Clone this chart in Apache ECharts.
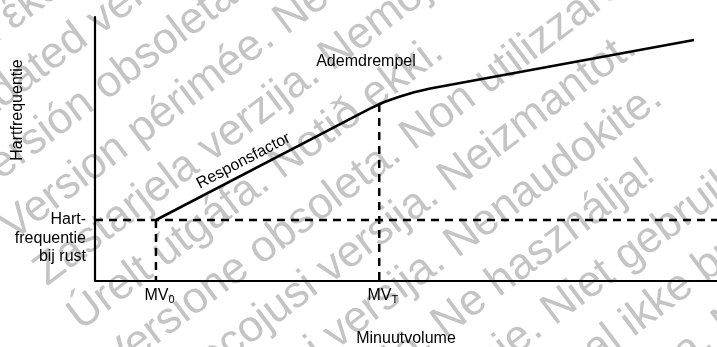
<!DOCTYPE html>
<html>
<head>
<meta charset="utf-8">
<script src="https://cdn.jsdelivr.net/npm/echarts@6/dist/echarts.min.js"></script>
<style>
  html, body { margin: 0; padding: 0; background: #fff; }
  #chart { width: 717px; height: 347px; }
</style>
</head>
<body>
<div id="chart"></div>
<script>
// Rate-response curve: heart rate against minute ventilation (arbitrary units, 0-100 on both axes)
const restRate = 23.1;   // heart rate at rest
const mv0 = 9.8;         // minute ventilation at rest
const mvT = 45.7;        // ventilatory threshold
const rateAtMvT = 67.0;  // heart rate reached at the threshold

// response curve: straight "Responsfactor" segment, bend, flatter segment above the threshold
const curveX = [9.8, 44.2, 46.4, 48.8, 51.3, 53.9, 96.3];
const curveY = [23.1, 65.3, 67.7, 69.7, 71.5, 72.9, 91.3];

const xTickValues = [mv0, mvT];
const xTickSubscripts = ['0', 'T'];

const yAxisTitle = 'Hartfrequentie';
const xAxisTitle = 'Minuutvolume';
const restLabel = 'Hart-\nfrequentie\nbij rust';
const slopeLabel = 'Responsfactor';
const thresholdLabel = 'Ademdrempel';

// background watermark lines
const watermarkLines = [
  'Παλιά έκδοση. Μην τη χρησιμοποιείτε.',
  'Outdated version. Do not use.',
  'Versión obsoleta. No utilizar.',
  'Version périmée. Ne pas utiliser.',
  'Zastarjela verzija. Nemojte upotrebljavati.',
  'Úrelt útgáfa. Notið ekki.',
  'Versione obsoleta. Non utilizzare.',
  'Novecojusi versija. Neizmantot.',
  'Pasenusi versija. Nenaudokite.',
  'Elavult verzió. Ne használja!',
  'Verouderde versie. Niet gebruiken.',
  'Foreldet versjon. Skal ikke brukes.',
  'Wersja przeterminowana. Nie używać.'
];

const FONT = '"Liberation Sans", Arial, Helvetica, sans-serif';
const INK = '#000';
const GRID = { left: 95, right: 0, top: 17, bottom: 66, outerBoundsMode: 'none', containLabel: false };

const chart = echarts.init(document.getElementById('chart'), null, { renderer: 'canvas' });

const dashed = { color: INK, width: 2.5, type: [8, 6] };
const plainAxis = {
  type: 'value', min: 0, max: 100,
  axisLine: { show: true, lineStyle: { color: INK, width: 2.2 } },
  axisTick: { show: false },
  splitLine: { show: false }
};

chart.setOption({
  animation: false,
  grid: GRID,
  xAxis: Object.assign({}, plainAxis, {
    axisLabel: {
      show: true,
      customValues: xTickValues,
      margin: 5,
      color: INK,
      fontFamily: FONT,
      formatter: function (v) {
        const i = xTickValues.indexOf(v);
        return '{p|}{m|MV}{s|' + xTickSubscripts[i] + '}';
      },
      rich: {
        p: { width: 7 },
        m: { fontSize: 16, fontFamily: FONT, color: INK, lineHeight: 20 },
        s: { fontSize: 11, fontFamily: FONT, color: INK, lineHeight: 12, padding: [8, 0, 0, 0] }
      }
    },
    name: xAxisTitle,
    nameLocation: 'middle',
    nameGap: 50,
    nameTextStyle: { fontFamily: FONT, fontSize: 16, color: INK }
  }),
  yAxis: Object.assign({}, plainAxis, { axisLabel: { show: false } }),
  series: [
    {
      type: 'line', symbol: 'none', z: 5,
      data: curveX.map((x, i) => [x, curveY[i]]),
      lineStyle: { color: INK, width: 2.6 }
    },
    { type: 'line', symbol: 'none', z: 4, data: [[0, restRate], [100, restRate]], lineStyle: dashed },
    { type: 'line', symbol: 'none', z: 4, data: [[mv0, restRate], [mv0, 0]], lineStyle: dashed },
    { type: 'line', symbol: 'none', z: 4, data: [[mvT, rateAtMvT], [mvT, 0]], lineStyle: dashed }
  ]
});

// place text labels from axis coordinates
const toPx = (pt) => chart.convertToPixel({ gridIndex: 0 }, pt);
const restPx = toPx([0, restRate]);
const segA = toPx([curveX[0], curveY[0]]);
const segB = toPx([curveX[1], curveY[1]]);
const slopeAngle = Math.atan2(segA[1] - segB[1], segB[0] - segA[0]);
const slopeAt = 0.435;
const slopeGap = 12;
const slopeAnchor = [
  segA[0] + (segB[0] - segA[0]) * slopeAt - Math.sin(slopeAngle) * slopeGap,
  segA[1] + (segB[1] - segA[1]) * slopeAt - Math.cos(slopeAngle) * slopeGap
];

// watermark: parallel lines rotated 37 degrees, left-aligned in the rotated frame
const WM_ANGLE = 37 * Math.PI / 180;
const WM_START = -135;
const WM_FIRST = 20;
const WM_STEP = 56.2;
const watermark = {
  type: 'group',
  rotation: WM_ANGLE,
  x: 0, y: 0,
  silent: true,
  children: watermarkLines.map((t, k) => ({
    type: 'text',
    z: -5,
    x: WM_START,
    y: WM_FIRST + WM_STEP * k,
    style: { text: t, font: '44px ' + FONT, fill: '#c4c4c4', verticalAlign: 'middle' }
  }))
};

const textStyle = (extra) => Object.assign({ fontFamily: FONT, fontSize: 16, fill: INK }, extra);

chart.setOption({
  graphic: [
    watermark,
    {
      type: 'text', z: 20, x: 17.5, y: 110, rotation: Math.PI / 2,
      style: textStyle({ text: yAxisTitle, align: 'center', verticalAlign: 'middle' })
    },
    {
      type: 'text', z: 20, x: GRID.left - 9, y: restPx[1] - 9.5,
      style: textStyle({ text: restLabel, align: 'right', verticalAlign: 'top', lineHeight: 18.5 })
    },
    {
      type: 'text', z: 20, x: slopeAnchor[0], y: slopeAnchor[1], rotation: slopeAngle,
      style: textStyle({ text: slopeLabel, align: 'center', verticalAlign: 'middle' })
    },
    {
      type: 'text', z: 20, x: 366, y: 62,
      style: textStyle({ text: thresholdLabel, align: 'center', verticalAlign: 'middle' })
    }
  ]
});
</script>
</body>
</html>
